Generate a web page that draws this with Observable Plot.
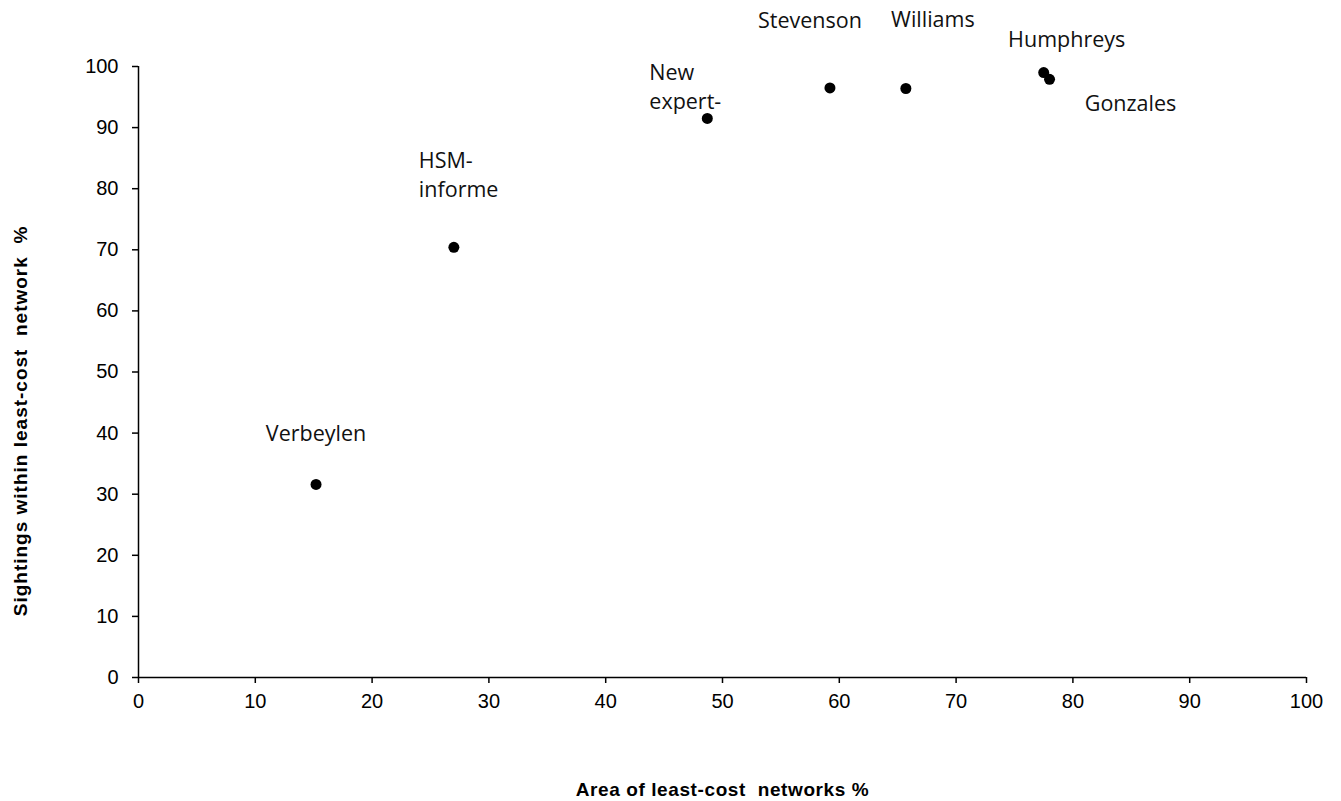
<!DOCTYPE html>
<html>
<head>
<meta charset="utf-8">
<script src="https://cdn.jsdelivr.net/npm/d3@7"></script>
<script src="https://cdn.jsdelivr.net/npm/@observablehq/plot@0.6"></script>
<style>
  html, body { margin: 0; padding: 0; background: #fff; }
</style>
</head>
<body>
<div id="chart"></div>
<script>
// Data
const names = ["Verbeylen", "HSM-\ninforme", "New\nexpert-", "Stevenson", "Williams", "Humphreys", "Gonzales"];
const areaPct = [15.2, 27.0, 48.7, 59.2, 65.7, 77.5, 78.0];
const sightingsPct = [31.6, 70.4, 91.5, 96.5, 96.4, 99.0, 97.9];
const xTicks = [0, 10, 20, 30, 40, 50, 60, 70, 80, 90, 100];
const yTicks = [0, 10, 20, 30, 40, 50, 60, 70, 80, 90, 100];
const xTitle = "Area of least-cost  networks %";
const yTitle = "Sightings within least-cost  network  %";

const data = names.map((n, i) => ({ name: n, x: areaPct[i], y: sightingsPct[i] }));

// label placement (screen offsets relative to each point)
const labelStyle = {
  "Verbeylen":        { dx: 0,   dy: -53, anchor: "middle" },
  "HSM-\ninforme":    { dx: -35, dy: -74, anchor: "start" },
  "New\nexpert-":     { dx: -58, dy: -33, anchor: "start" },
  "Stevenson":        { dx: -20, dy: -69, anchor: "middle" },
  "Williams":         { dx: 27,  dy: -71, anchor: "middle" },
  "Humphreys":        { dx: 23,  dy: -35, anchor: "middle" },
  "Gonzales":         { dx: 81,  dy: 22,  anchor: "middle" }
};

const labelFont = "'Open Sans', 'Noto Sans', sans-serif";
const axisFont = "'Liberation Sans', Arial, sans-serif";

const labelMarks = data.map(d => {
  const s = labelStyle[d.name];
  return Plot.text([d], {
    x: "x", y: "y", text: "name",
    dx: s.dx, dy: s.dy, textAnchor: s.anchor,
    lineAnchor: "middle", lineHeight: 1.36,
    fontSize: 21.5, fontFamily: labelFont, fill: "#111"
  });
});

const chart = Plot.plot({
  width: 1341,
  height: 801,
  marginLeft: 138,
  marginRight: 35,
  marginTop: 66,
  marginBottom: 124,
  style: { fontFamily: axisFont, background: "#fff", color: "#000" },
  x: { domain: [0, 100] },
  y: { domain: [0, 100] },
  marks: [
    Plot.axisX({ ticks: xTicks, tickSize: 6, tickPadding: 10, fontSize: 20, fontFamily: axisFont, label: null, strokeWidth: 1.5, stroke: "#000" }),
    Plot.axisY({ ticks: yTicks, tickSize: 6, tickPadding: 14, fontSize: 20, fontFamily: axisFont, label: null, strokeWidth: 1.5, stroke: "#000" }),
    Plot.ruleX([0], { stroke: "#000", strokeWidth: 1.5 }),
    Plot.ruleY([0], { stroke: "#000", strokeWidth: 1.5 }),
    Plot.dot(data, { x: "x", y: "y", r: 5.5, fill: "#000", stroke: "none" }),
    ...labelMarks,
    Plot.text([xTitle], { frameAnchor: "bottom", textAnchor: "middle", lineAnchor: "middle", dy: 112, text: d => d, fontSize: 19, fontWeight: "bold", fontFamily: axisFont, fill: "#000", style: "letter-spacing: 0.6px" }),
    Plot.text([yTitle], { frameAnchor: "left", textAnchor: "middle", lineAnchor: "middle", dx: -118, dy: 49, rotate: -90, text: d => d, fontSize: 19, fontWeight: "bold", fontFamily: axisFont, fill: "#000" })
  ]
});

// slight letter spacing on titles to match reference widths
d3.select(chart).selectAll("text").filter(function() { return this.textContent === xTitle; }).style("letter-spacing", "0.6px");
d3.select(chart).selectAll("text").filter(function() { return this.textContent === yTitle; }).style("letter-spacing", "1px");

document.getElementById("chart").appendChild(chart);
</script>
</body>
</html>
